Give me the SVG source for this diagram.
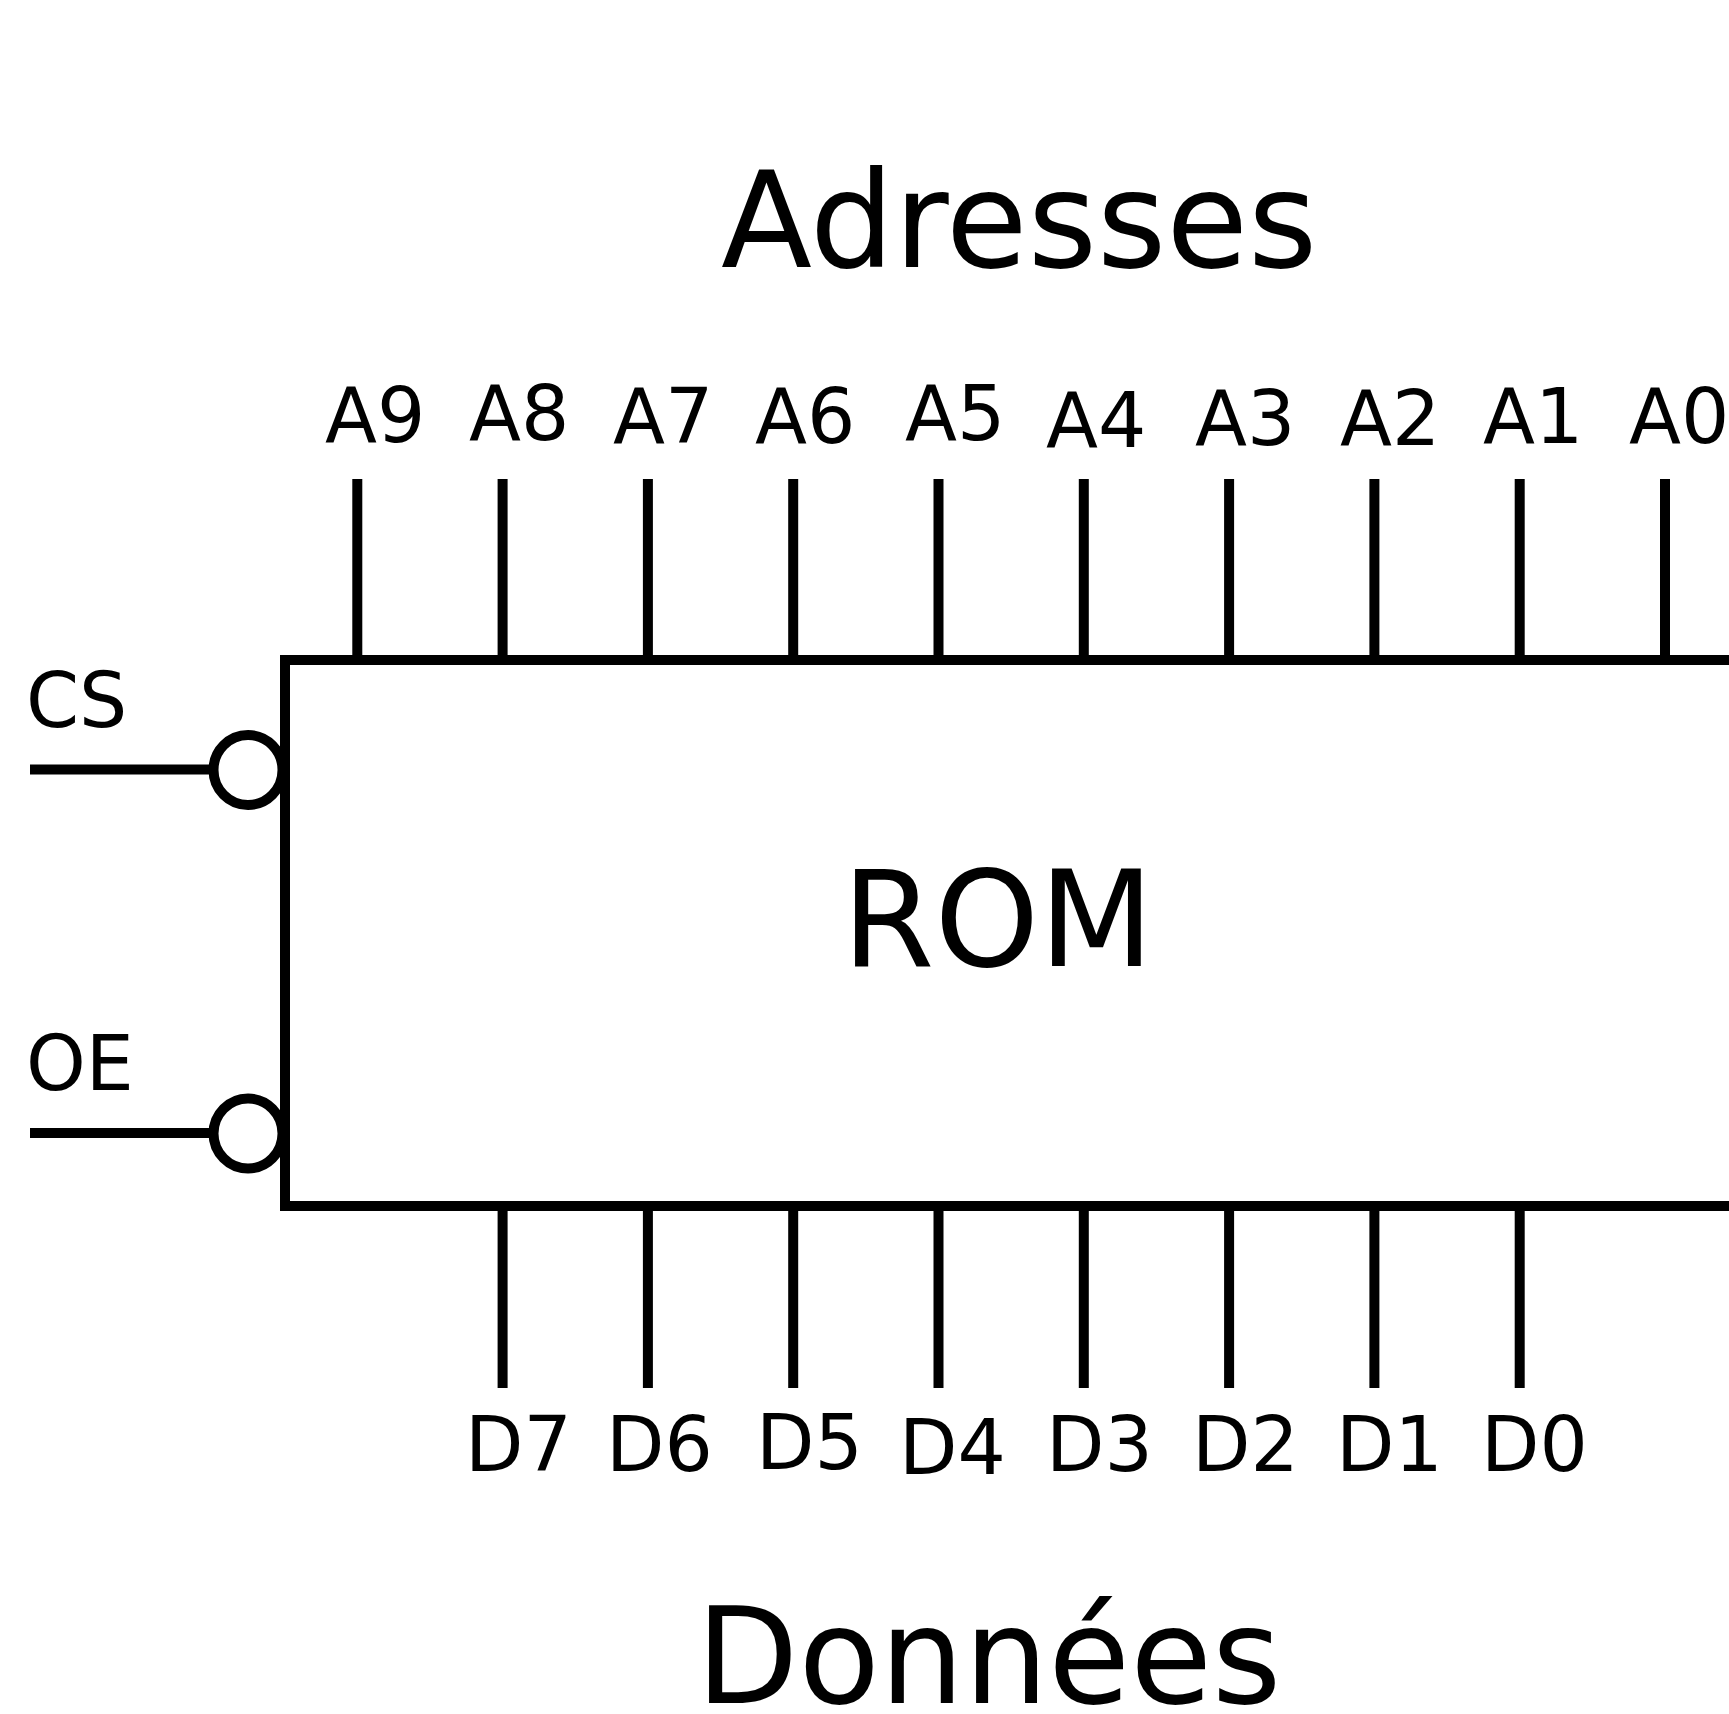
<svg xmlns="http://www.w3.org/2000/svg" width="1729" height="1714" viewBox="0 0 1729 1714">
<style>
text{font-family:"DejaVu Sans",sans-serif;fill:#000}
.l{font-size:76px}
.t{font-size:133px}
.w{stroke:#000;stroke-width:10;fill:none}
.b{stroke:#000;stroke-width:10;fill:#fff}
</style>
<rect width="1729" height="1714" fill="#fff"/>
<g id="rom"><path class="b" d="M1745 660H285V1206H1745"/><text class="t" x="842" y="966">ROM</text></g>
<g id="connectors">
<path class="w" d="M357.300 479V660M502.600 479V660M647.900 479V660M793.200 479V660M938.500 479V660M1083.800 479V660M1229.100 479V660M1374.400 479V660M1519.700 479V660M1665 479V660"/>
<path class="w" d="M502.600 1206V1388M647.900 1206V1388M793.200 1206V1388M938.500 1206V1388M1083.800 1206V1388M1229.100 1206V1388M1374.400 1206V1388M1519.700 1206V1388"/>
<path class="w" d="M30 769.500H212M30 1133H212"/>
</g>
<g id="cs-bubble"><ellipse class="b" cx="248" cy="770" rx="34.500" ry="35"/></g>
<g id="oe-bubble"><ellipse class="b" cx="248" cy="1133.500" rx="34.500" ry="35"/></g>
<g id="title-addr"><text class="t" x="721" y="267">Adresses</text></g>
<g id="title-data"><text class="t" x="696" y="1703">Données</text></g>
<g id="labels">
<text class="l" x="325" y="442">A9</text>
<text class="l" x="469" y="440">A8</text>
<text class="l" x="613" y="443">A7</text>
<text class="l" x="755" y="443">A6</text>
<text class="l" x="905" y="440">A5</text>
<text class="l" x="1046" y="447">A4</text>
<text class="l" x="1195" y="445">A3</text>
<text class="l" x="1340" y="445">A2</text>
<text class="l" x="1483" y="443">A1</text>
<text class="l" x="1629" y="443">A0</text>
<text class="l" x="26" y="727">CS</text>
<text class="l" x="26" y="1090">OE</text>
<text class="l" x="465" y="1471">D7</text>
<text class="l" x="606" y="1471">D6</text>
<text class="l" x="756" y="1469">D5</text>
<text class="l" x="899" y="1474">D4</text>
<text class="l" x="1046" y="1471">D3</text>
<text class="l" x="1192" y="1471">D2</text>
<text class="l" x="1336" y="1471">D1</text>
<text class="l" x="1481" y="1471">D0</text>
</g>
</svg>
